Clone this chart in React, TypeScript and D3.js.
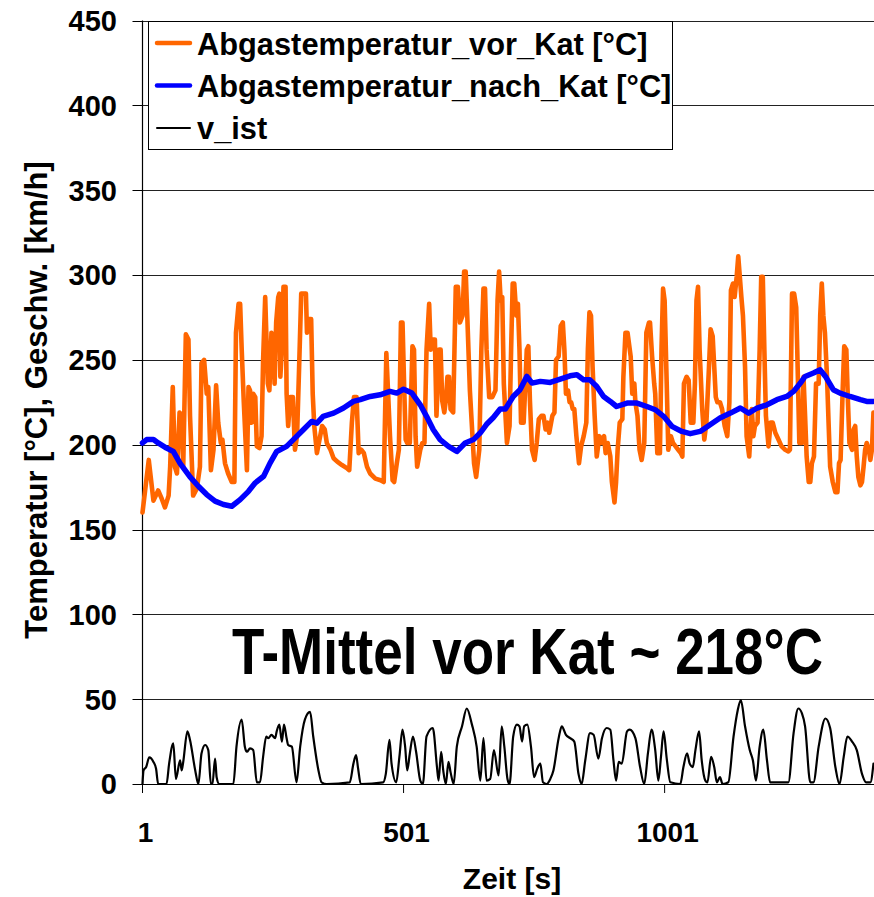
import React from "react";
import * as d3 from "d3";

const W = 874;
const H = 897;

// Abgastemperatur vor Kat [°C]
const vorKatTime = [1,6,13,22,31,38,44,51,54,59,63,67,72,76,79,84,89,92,98,105,111,114,119,124,127,132,137,142,146,151,154,159,165,172,177,180,185,188,191,195,201,204,207,210,213,217,220,225,229,232,236,241,244,248,252,254,257,261,263,265,268,271,275,277,280,284,289,293,297,301,305,310,314,316,319,324,327,330,335,340,345,350,354,361,367,374,383,393,397,402,406,411,415,420,425,431,437,447,457,463,468,475,480,483,488,492,496,499,502,505,508,513,518,521,524,527,533,537,541,545,550,553,556,561,564,569,572,575,579,582,585,588,591,596,601,605,609,614,617,620,623,628,633,636,640,646,650,654,657,660,665,671,677,681,684,687,690,693,699,704,707,710,713,717,720,723,726,731,734,737,740,743,747,752,756,760,765,769,773,777,780,786,790,793,798,802,806,809,812,816,819,822,825,828,832,837,841,846,851,854,857,860,863,867,871,876,881,885,888,892,897,900,905,908,911,915,920,922,926,930,936,939,943,945,949,953,957,962,966,971,973,977,981,983,987,992,995,998,1001,1005,1008,1013,1017,1022,1027,1032,1035,1038,1043,1047,1051,1056,1059,1062,1065,1068,1073,1077,1081,1086,1089,1093,1096,1099,1102,1107,1111,1116,1121,1125,1128,1132,1135,1139,1142,1145,1148,1151,1155,1158,1163,1168,1171,1174,1179,1183,1186,1189,1192,1195,1200,1204,1208,1213,1219,1225,1232,1238,1241,1245,1249,1253,1255,1259,1264,1267,1270,1273,1277,1280,1283,1287,1291,1296,1299,1302,1305,1308,1312,1315,1318,1323,1328,1332,1335,1338,1342,1345,1349,1352,1355,1360,1363,1366,1369,1372,1376,1379,1382,1385,1388,1392,1395,1398,1401];
const vorKatValues = [160,173,191,167,173,168,163,170,187,234,187,183,219,217,187,265,262,217,170,174,187,248,250,230,234,185,197,235,213,201,203,189,183,178,178,266,283,283,256,225,185,234,232,213,230,228,199,198,205,250,287,236,232,266,256,236,272,287,289,240,256,293,293,230,211,228,228,197,205,246,289,289,289,266,274,274,230,211,195,203,211,209,201,197,192,190,188,186,185,213,228,228,195,197,195,187,183,180,179,178,254,205,179,178,189,197,272,272,236,203,201,201,258,256,205,187,197,201,201,256,283,256,262,262,217,256,256,226,219,226,240,240,221,219,293,293,272,276,302,302,276,232,205,189,181,197,256,292,292,256,228,228,232,285,302,285,287,236,201,211,256,295,295,276,283,256,213,213,234,256,258,226,197,191,201,215,217,217,209,213,207,217,219,250,252,270,272,256,230,232,225,225,221,221,205,189,199,205,213,256,278,276,246,217,193,205,201,205,195,201,193,178,166,178,197,213,215,240,266,266,252,230,236,225,217,197,191,201,266,272,272,252,236,230,195,195,256,292,285,236,197,205,201,199,197,195,193,236,240,238,213,213,236,285,293,256,221,203,213,246,268,264,246,228,225,225,221,211,205,225,291,295,287,299,311,299,287,276,246,205,193,221,205,211,213,256,299,299,256,217,199,213,213,207,203,199,197,196,197,289,289,281,256,201,201,240,217,193,178,178,189,193,236,236,276,295,276,266,240,213,187,178,172,172,189,191,232,258,256,226,201,197,209,211,193,181,176,178,187,197,201,197,191,197,219];

// Abgastemperatur nach Kat [°C]
const nachKatTime = [1,9,22,31,47,60,73,92,108,124,140,156,172,188,204,217,233,245,258,277,290,309,325,335,347,367,386,405,418,437,456,475,488,501,517,533,545,558,571,587,603,619,635,648,660,673,686,696,711,724,737,747,763,782,801,820,833,846,858,871,884,897,909,929,948,967,983,999,1015,1034,1050,1069,1088,1107,1127,1146,1162,1178,1197,1216,1235,1248,1261,1270,1286,1299,1309,1324,1337,1356,1376,1388,1401];
const nachKatValues = [201,203,203,201,198,196,189,181,175.5,170.6,166.7,164.7,163.7,167.6,172.5,177.5,181.4,189,196,199,203,208.8,213.7,212.7,216.7,218.6,221.6,225.5,226.5,228.4,229.4,231.4,230.4,232.7,230.4,223.5,216.7,208.8,203,199,196,201,203,207,212,216,221,221,228.4,232.4,240.2,236.3,237.3,236.7,238.6,240.6,241.2,238.2,238.2,234.3,228.4,225.5,222.5,224.5,224.5,222.5,220.6,216.7,210.8,207.8,206.5,207.8,211.8,215.7,218.6,221.6,218.6,221.6,223.5,226.5,228.4,231.4,236.3,240.2,242.2,244.1,240.2,232.4,230.4,228.4,226.5,225.5,225.5];

// v_ist [km/h]
const vIstTime = [1,3,8,14,22,27,31,47,52,60,65,73,76,79,87,92,102,108,114,121,127,132,135,140,143,148,175,181,191,197,201,207,213,220,226,232,238,242,248,255,258,263,268,272,277,280,287,296,303,312,322,328,338,344,354,398,405,410,414,419,462,467,474,478,487,493,499,504,508,513,519,525,533,538,545,557,565,568,573,577,582,587,591,597,603,613,622,632,641,648,654,660,667,674,683,689,694,700,704,711,718,723,728,732,738,745,751,757,763,768,775,782,788,798,804,812,820,828,836,842,849,858,865,874,881,890,897,903,908,913,919,929,934,945,954,962,969,976,983,989,994,999,1005,1012,1031,1037,1044,1049,1055,1060,1067,1072,1079,1083,1090,1096,1101,1107,1112,1123,1133,1141,1147,1155,1164,1170,1176,1183,1190,1197,1203,1238,1248,1257,1264,1270,1280,1286,1296,1309,1318,1328,1336,1344,1351,1360,1369,1379,1387,1395,1401];
const vIstValues = [0,8,10,15.7,13,9,0,0,12,24,3,14,8,13,31,26,8,0,18,23,20,0,0,15,4,0,0,22,38,22,19,21,20,1,1,16,28,27,29,27,31,35,25,35,27,23,22,1,22,38,42.5,28,8,1,0,1,12,17,9,0,1,6,26,12,1,16,32,22,8,18,28,19,2,0,28,33,10,2,19,8,0,13,7,0,22,34,44.5,35,22,2,27,2,3,20,5,34,22,3,0,28,35,34,25,34,35,22,4,9,12,1,0,3,8,27,34,29,27,25,6,0,14,30,29,15,27,33,32,14,2,13,12,31,32,27,10,0,18,32,20,2,16,31,15,1,0,10,18,12,10,20,31,14,2,1,16,10,1,4,0,1,28,43.5,49.4,34,20,14,2,22,32,14,1,1,30,44.5,41.6,34,1,1,22,38.6,33,10,0,16,28,25,20,6,1,1,12];

const yTicks = [0, 50, 100, 150, 200, 250, 300, 350, 400, 450];
const xTicks = [1, 501, 1001];

const seriesNames = [
  "Abgastemperatur_vor_Kat [°C]",
  "Abgastemperatur_nach_Kat [°C]",
  "v_ist",
];
const seriesColors = ["#FF6600", "#0000FF", "#000000"];
const seriesWidths = [4.6, 5.5, 2.2];

const yLabel = "Temperatur [°C], Geschw. [km/h]";
const xLabel = "Zeit [s]";
const annotation = "T-Mittel vor Kat ~ 218°C";

const FONT = "'Liberation Sans', Arial, sans-serif";

export default function App() {
  const left = 142.5;
  const right = 874;
  const top = 20.5;
  const bottom = 784;

  const x = d3.scaleLinear().domain([1, 1402]).range([left, right]);
  const y = d3.scaleLinear().domain([0, 450]).range([bottom, top]);

  const line = d3
    .line<[number, number]>()
    .x((d) => x(d[0]))
    .y((d) => y(d[1]));
  const smoothLine = d3
    .line<[number, number]>()
    .x((d) => x(d[0]))
    .y((d) => y(d[1]))
    .curve(d3.curveMonotoneX);

  const zip = (t: number[], v: number[]) =>
    t.map((tt, i) => [tt, v[i]] as [number, number]);

  const series = [
    zip(vorKatTime, vorKatValues),
    zip(nachKatTime, nachKatValues),
    zip(vIstTime, vIstValues),
  ];

  const legX = 148;
  const legY = 21;

  return (
    <svg
      width={W}
      height={H}
      viewBox={`0 0 ${W} ${H}`}
      style={{ position: "absolute", left: 0, top: 0, background: "#fff" }}
      fontFamily={FONT}
    >
      <rect x={0} y={0} width={W} height={H} fill="#fff" />
      {/* gridlines */}
      {yTicks.map((t) => (
        <line
          key={"g" + t}
          x1={left}
          x2={right}
          y1={Math.round(y(t)) + 0.5}
          y2={Math.round(y(t)) + 0.5}
          stroke={t === 0 ? "#000" : "#222"}
          strokeWidth={1}
        />
      ))}
      {/* y axis */}
      <line x1={left} x2={left} y1={top} y2={bottom} stroke="#000" strokeWidth={1.2} />
      {yTicks.map((t) => (
        <g key={"yt" + t}>
          <line
            x1={left - 10}
            x2={left}
            y1={Math.round(y(t)) + 0.5}
            y2={Math.round(y(t)) + 0.5}
            stroke="#000"
          />
          <text
            x={117}
            y={y(t)}
            dy="0.36em"
            textAnchor="end"
            fontSize={29}
            fontWeight="bold"
          >
            {t}
          </text>
        </g>
      ))}
      {/* x axis ticks */}
      {xTicks.map((t) => (
        <g key={"xt" + t}>
          <line x1={x(t)} x2={x(t)} y1={bottom} y2={bottom + 9} stroke="#000" />
          <text
            x={x(t) + 3}
            y={842}
            textAnchor="middle"
            fontSize={28}
            fontWeight="bold"
          >
            {t}
          </text>
        </g>
      ))}
      {/* series */}
      {series.map((s, i) => (
        <path
          key={"s" + i}
          d={(i === 2 ? smoothLine(s) : line(s)) || ""}
          fill="none"
          stroke={seriesColors[i]}
          strokeWidth={seriesWidths[i]}
          strokeLinejoin="round"
          strokeLinecap="round"
        />
      ))}
      {/* legend */}
      <rect
        x={legX + 0.5}
        y={legY + 0.5}
        width={524}
        height={128}
        fill="#fff"
        stroke="#000"
        strokeWidth={1}
      />
      {seriesNames.map((n, i) => (
        <g key={"l" + i}>
          <line
            x1={157}
            x2={190}
            y1={43 + i * 42.5}
            y2={43 + i * 42.5}
            stroke={seriesColors[i]}
            strokeWidth={i === 2 ? 2 : 4.5}
            strokeLinecap="round"
          />
          <text x={197} y={55 + i * 42} fontSize={30.8} fontWeight="bold">
            {n}
          </text>
        </g>
      ))}
      {/* annotation */}
      <text
        transform="translate(232,674) scale(1,1.22)"
        fontSize={53}
        fontWeight="bold"
      >
        {annotation}
      </text>
      {/* axis titles */}
      <text
        transform={`translate(47,400) rotate(-90)`}
        textAnchor="middle"
        fontSize={31}
        fontWeight="bold"
      >
        {yLabel}
      </text>
      <text x={512} y={889} textAnchor="middle" fontSize={30} fontWeight="bold">
        {xLabel}
      </text>
    </svg>
  );
}
